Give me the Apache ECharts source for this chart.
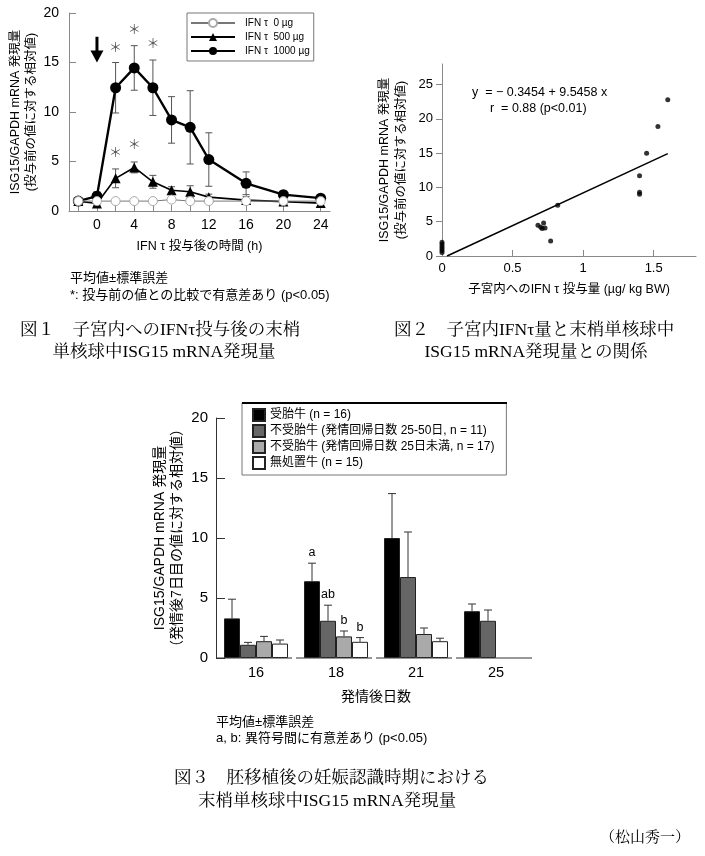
<!DOCTYPE html>
<html><head><meta charset="utf-8">
<script src="https://cdn.jsdelivr.net/npm/echarts@6/dist/echarts.min.js"></script>
<style>html,body{margin:0;padding:0;background:#fff}#c{width:705px;height:856px}</style>
</head><body><div id="c"></div>
<script>
// ---------- Figure 1 data ----------
const hours = [-2, 0, 2, 4, 6, 8, 10, 12, 16, 20, 24];
const hourLabels = [0, 4, 8, 12, 16, 20, 24];
const ifn0 = [1.0, 1.0, 1.0, 1.0, 1.0, 1.15, 1.0, 1.0, 1.0, 1.0, 1.0];
const ifn0Err = [0.1, 0.1, 0.1, 0.1, 0.1, 0.1, 0.15, 0.1, 0.1, 0.1, 0.1];
const ifn500 = [1.0, 0.75, 3.3, 4.4, 2.95, 2.1, 1.95, 1.4, 1.1, 0.95, 0.8];
const ifn500Err = [0.15, 0.15, 0.95, 0.55, 0.65, 0.35, 0.6, 0.3, 0.35, 0.15, 0.1];
const ifn1000 = [1.0, 1.5, 12.45, 14.45, 12.45, 9.2, 8.45, 5.2, 2.8, 1.65, 1.3];
const ifn1000Err = [0.2, 0.45, 2.55, 2.25, 2.8, 2.35, 3.7, 2.7, 1.15, 0.3, 0.3];
const starX = [2, 4, 6, 2, 4];
const starY = [16.6, 18.4, 17.0, 6.0, 6.8];
const arrowX = 0, arrowTop = 17.6, arrowTip = 15.0;
const fig1Names = ['IFN τ  0 µg', 'IFN τ  500 µg', 'IFN τ  1000 µg'];

// ---------- Figure 2 data ----------
const doseX = [0, 0, 0, 0, 0, 0, 0.68, 0.70, 0.72, 0.71, 0.73, 0.77, 0.82, 1.40, 1.40, 1.40, 1.45, 1.53, 1.60];
const isgY = [0.5, 0.8, 1.1, 1.4, 1.7, 2.0, 4.5, 4.2, 4.8, 4.0, 4.1, 2.2, 7.4, 11.7, 9.3, 9.0, 15.0, 18.9, 22.8];
const regX = [0.036, 1.6];
const regY = [0.0, 14.93];
const fig2XLabels = [0, 0.5, 1, 1.5];
const fig2YLabels = [0, 5, 10, 15, 20, 25];

// ---------- Figure 3 data ----------
const days = ['16', '18', '21', '25'];
const groupNames = ['受胎牛 (n = 16)', '不受胎牛 (発情回帰日数 25-50日, n = 11)', '不受胎牛 (発情回帰日数 25日未満, n = 17)', '無処置牛 (n = 15)'];
const pregnant = [3.3, 6.4, 10.0, 3.9];
const pregnantErr = [1.6, 1.5, 3.7, 0.6];
const openLong = [1.1, 3.1, 6.75, 3.1];
const openLongErr = [0.2, 1.3, 3.75, 0.9];
const openShort = [1.4, 1.8, 2.0, null];
const openShortErr = [0.4, 0.45, 0.5, null];
const untreated = [1.2, 1.35, 1.4, null];
const untreatedErr = [0.3, 0.35, 0.25, null];
const sigLetters = [['', '', '', ''], ['a', 'ab', 'b', 'b'], ['', '', '', ''], ['', '', '', '']];

const FONT = 'Liberation Sans, "Noto Sans CJK JP", sans-serif';
const SERIF = 'Liberation Serif, "Noto Serif CJK JP", "Noto Sans CJK JP", serif';

const chart = echarts.init(document.getElementById('c'), null, {renderer: 'canvas'});

function errRender(params, api) {
  const x = api.value(0), lo = api.value(1), hi = api.value(2);
  const p1 = api.coord([x, hi]), p2 = api.coord([x, lo]);
  const w = 3.5, st = {stroke: '#555', lineWidth: 1};
  return {type: 'group', children: [
    {type: 'line', shape: {x1: p1[0], y1: p1[1], x2: p2[0], y2: p2[1]}, style: st},
    {type: 'line', shape: {x1: p1[0] - w, y1: p1[1], x2: p1[0] + w, y2: p1[1]}, style: st},
    {type: 'line', shape: {x1: p2[0] - w, y1: p2[1], x2: p2[0] + w, y2: p2[1]}, style: st}
  ]};
}
function errData(means, errs) {
  return hours.map((h, i) => [h, means[i] - errs[i], means[i] + errs[i]]);
}

const barSets = [
  {vals: pregnant, errs: pregnantErr, color: '#000000'},
  {vals: openLong, errs: openLongErr, color: '#666666'},
  {vals: openShort, errs: openShortErr, color: '#aaaaaa'},
  {vals: untreated, errs: untreatedErr, color: '#ffffff'}
];
const barErrData = [];
barSets.forEach((s, si) => {
  s.vals.forEach((v, ci) => {
    if (v != null) barErrData.push([ci, si, v, v + s.errs[ci], sigLetters[ci][si]]);
  });
});

const option = {
  backgroundColor: '#fff',
  animation: false,
  textStyle: {fontFamily: FONT, color: '#000'},
  grid: [
    {left: 69, top: 13, width: 261, height: 198},
    {left: 442, top: 64, width: 254, height: 192},
    {left: 216, top: 418, width: 320, height: 240}
  ],
  xAxis: [
    {type: 'value', gridIndex: 0, min: -3, max: 25,
      axisLine: {onZero: false, lineStyle: {color: '#888'}},
      axisTick: {inside: true, length: 6, lineStyle: {color: '#888'}, customValues: hours},
      axisLabel: {customValues: hourLabels, fontSize: 14, color: '#000', margin: 7, fontFamily: FONT},
      splitLine: {show: false},
      name: 'IFN τ 投与後の時間 (h)', nameLocation: 'middle', nameGap: 29,
      nameTextStyle: {fontSize: 12.5, color: '#000', fontFamily: FONT}},
    {type: 'value', gridIndex: 1, min: 0, max: 1.8,
      axisLine: {onZero: false, lineStyle: {color: '#888'}},
      axisTick: {inside: true, length: 6, lineStyle: {color: '#888'}, customValues: [0.5, 1, 1.5]},
      axisLabel: {customValues: fig2XLabels, fontSize: 13, color: '#000', margin: 6, fontFamily: FONT},
      splitLine: {show: false},
      name: '子宮内へのIFN τ 投与量 (µg/ kg BW)', nameLocation: 'middle', nameGap: 27,
      nameTextStyle: {fontSize: 12.5, color: '#000', fontFamily: FONT}},
    {type: 'category', gridIndex: 2, data: days,
      axisLine: {show: false}, axisTick: {show: false},
      axisLabel: {fontSize: 14.5, color: '#000', margin: 8, fontFamily: FONT},
      name: '発情後日数', nameLocation: 'middle', nameGap: 32,
      nameTextStyle: {fontSize: 14, color: '#000', fontFamily: FONT}}
  ],
  yAxis: [
    {type: 'value', gridIndex: 0, min: 0, max: 20, interval: 5,
      axisLine: {show: true, onZero: false, lineStyle: {color: '#888'}},
      axisTick: {show: true, inside: true, length: 7, lineStyle: {color: '#888'}},
      axisLabel: {fontSize: 14, color: '#000', margin: 10, fontFamily: FONT},
      splitLine: {show: false},
      name: 'ISG15/GAPDH mRNA 発現量\n(投与前の値に対する相対値)', nameLocation: 'middle', nameGap: 26, nameRotate: 90,
      nameTextStyle: {fontSize: 12.5, lineHeight: 16, color: '#000', fontFamily: FONT}},
    {type: 'value', gridIndex: 1, min: 0, max: 28,
      axisLine: {show: true, onZero: false, lineStyle: {color: '#888'}},
      axisTick: {show: true, inside: false, length: 6, lineStyle: {color: '#888'}, customValues: fig2YLabels},
      axisLabel: {customValues: fig2YLabels, fontSize: 13, color: '#000', margin: 9, fontFamily: FONT},
      splitLine: {show: false},
      name: 'ISG15/GAPDH mRNA 発現量\n(投与前の値に対する相対値)', nameLocation: 'middle', nameGap: 32, nameRotate: 90,
      nameTextStyle: {fontSize: 12.5, lineHeight: 17, color: '#000', fontFamily: FONT}},
    {type: 'value', gridIndex: 2, min: 0, max: 20, interval: 5,
      axisLine: {show: true, onZero: false, lineStyle: {color: '#333'}},
      axisTick: {show: true, inside: true, length: 9, lineStyle: {color: '#333'}},
      axisLabel: {fontSize: 15, color: '#000', margin: 8, fontFamily: FONT},
      splitLine: {show: false},
      name: 'ISG15/GAPDH mRNA 発現量\n（発情後7日目の値に対する相対値）', nameLocation: 'middle', nameGap: 30, nameRotate: 90,
      nameTextStyle: {fontSize: 14, lineHeight: 17, color: '#000', fontFamily: FONT}}
  ],
  legend: [
    {data: fig1Names, orient: 'vertical', left: 187, top: 13,
      padding: [5, 4, 5, 3], itemGap: 4, itemWidth: 44, itemHeight: 10,
      borderColor: '#777', borderWidth: 1, backgroundColor: '#fff',
      textStyle: {fontSize: 10, color: '#000', fontFamily: FONT, padding: [0, 0, 0, 5]}},
    {data: groupNames, orient: 'vertical', left: 242, top: 403,
      padding: [5, 12, 5, 10], itemGap: 2, itemWidth: 12, itemHeight: 12, icon: 'rect',
      borderColor: '#777', borderWidth: 1, backgroundColor: '#fff',
      textStyle: {fontSize: 12, color: '#000', fontFamily: FONT, lineHeight: 14}}
  ],
  series: [
    // Figure 1 error bars
    {type: 'custom', xAxisIndex: 0, yAxisIndex: 0, renderItem: errRender, data: errData(ifn1000, ifn1000Err), encode: {x: 0, y: [1, 2]}, z: 1, silent: true},
    {type: 'custom', xAxisIndex: 0, yAxisIndex: 0, renderItem: errRender, data: errData(ifn500, ifn500Err), encode: {x: 0, y: [1, 2]}, z: 1, silent: true},
    {type: 'custom', xAxisIndex: 0, yAxisIndex: 0, renderItem: errRender, data: errData(ifn0, ifn0Err), encode: {x: 0, y: [1, 2]}, z: 1, silent: true},
    // Figure 1 lines
    {name: fig1Names[0], type: 'line', xAxisIndex: 0, yAxisIndex: 0, z: 4,
      data: hours.map((h, i) => [h, ifn0[i]]),
      symbol: 'circle', symbolSize: 9,
      lineStyle: {color: '#777', width: 1}, itemStyle: {color: '#fff', borderColor: '#aaa', borderWidth: 1}},
    {name: fig1Names[1], type: 'line', xAxisIndex: 0, yAxisIndex: 0, z: 3,
      data: hours.map((h, i) => [h, ifn500[i]]),
      symbol: 'triangle', symbolSize: 10,
      lineStyle: {color: '#000', width: 1.6}, itemStyle: {color: '#000'}},
    {name: fig1Names[2], type: 'line', xAxisIndex: 0, yAxisIndex: 0, z: 3,
      data: hours.map((h, i) => [h, ifn1000[i]]),
      symbol: 'circle', symbolSize: 11,
      lineStyle: {color: '#000', width: 2.4}, itemStyle: {color: '#000'}},
    // Figure 1 asterisks
    {type: 'custom', xAxisIndex: 0, yAxisIndex: 0, silent: true, z: 5,
      data: starX.map((x, i) => [x, starY[i]]),
      renderItem: (p, api) => {
        const c = api.coord([api.value(0), api.value(1)]);
        return {type: 'text', x: c[0], y: c[1], style: {text: '＊', align: 'center', verticalAlign: 'middle', textAlign: 'center', textVerticalAlign: 'middle', fontSize: 13, fontFamily: '"Noto Sans CJK JP"', fill: '#555'}};
      }},
    // Figure 1 arrow
    {type: 'custom', xAxisIndex: 0, yAxisIndex: 0, silent: true, z: 5,
      data: [[arrowX, arrowTop, arrowTip]],
      renderItem: (p, api) => {
        const t = api.coord([api.value(0), api.value(1)]);
        const b = api.coord([api.value(0), api.value(2)]);
        const hh = 12, hw = 6.5;
        return {type: 'group', children: [
          {type: 'rect', shape: {x: t[0] - 1.5, y: t[1], width: 3, height: b[1] - t[1] - hh + 1}, style: {fill: '#000'}},
          {type: 'polygon', shape: {points: [[b[0] - hw, b[1] - hh], [b[0] + hw, b[1] - hh], [b[0], b[1]]]}, style: {fill: '#000'}}
        ]};
      }},
    // Figure 2
    {type: 'scatter', xAxisIndex: 1, yAxisIndex: 1, data: doseX.map((x, i) => [x, isgY[i]]),
      symbol: 'circle', symbolSize: 5, itemStyle: {color: '#000'}},
    {type: 'line', xAxisIndex: 1, yAxisIndex: 1, data: regX.map((x, i) => [x, regY[i]]),
      symbol: 'none', lineStyle: {color: '#000', width: 1.5}},
    // Figure 3 bars
    ...barSets.map((s, si) => ({
      name: groupNames[si], type: 'bar', xAxisIndex: 2, yAxisIndex: 2,
      data: s.vals, barGap: '0%', barCategoryGap: '20%',
      itemStyle: {color: s.color, borderColor: '#222', borderWidth: 1}
    })),
    // Figure 3 baseline segments
    {type: 'custom', xAxisIndex: 2, yAxisIndex: 2, silent: true, z: 3,
      data: days.map((d, i) => [i, 0]),
      renderItem: (p, api) => {
        const c = api.coord([api.value(0), 0]);
        const band = api.size([1, 0])[0];
        return {type: 'line', shape: {x1: c[0] - band * 0.5, y1: c[1], x2: c[0] + band * 0.45, y2: c[1]}, style: {stroke: '#333', lineWidth: 1}};
      }},
    // Figure 3 error bars and letters
    {type: 'custom', xAxisIndex: 2, yAxisIndex: 2, silent: true, z: 3,
      data: barErrData, encode: {x: 0, y: [2, 3]},
      renderItem: (p, api) => {
        const ci = api.value(0), si = api.value(1);
        const band = api.size([1, 0])[0];
        const off = (si - 1.5) * band * 0.2;
        const m = api.coord([ci, api.value(2)]);
        const t = api.coord([ci, api.value(3)]);
        const x = m[0] + off;
        const letter = barErrData[p.dataIndex][4];
        const st = {stroke: '#333', lineWidth: 1};
        const ch = [
          {type: 'line', shape: {x1: x, y1: m[1], x2: x, y2: t[1]}, style: st},
          {type: 'line', shape: {x1: x - 4, y1: t[1], x2: x + 4, y2: t[1]}, style: st}
        ];
        if (letter) ch.push({type: 'text', x: x, y: t[1] - 4, style: {text: letter, align: 'center', verticalAlign: 'bottom', textAlign: 'center', textVerticalAlign: 'bottom', fontSize: 12.5, fontFamily: FONT, fill: '#000'}});
        return {type: 'group', children: ch};
      }}
  ],
  graphic: [
    {type: 'line', shape: {x1: 242, y1: 403, x2: 507, y2: 403}, style: {stroke: '#000', lineWidth: 2}, z: 100},
    {type: 'text', x: 70, y: 278, style: {text: '平均値±標準誤差', font: '13px ' + FONT, fill: '#000', verticalAlign: 'middle', textVerticalAlign: 'middle'}},
    {type: 'text', x: 70, y: 295, style: {text: '*: 投与前の値との比較で有意差あり (p<0.05)', font: '13px ' + FONT, fill: '#000', verticalAlign: 'middle', textVerticalAlign: 'middle'}},
    {type: 'text', x: 472, y: 93, style: {text: 'y  = − 0.3454 + 9.5458 x', font: '12.5px ' + FONT, fill: '#000', verticalAlign: 'middle', textVerticalAlign: 'middle'}},
    {type: 'text', x: 490, y: 109, style: {text: 'r  = 0.88 (p<0.01)', font: '12.5px ' + FONT, fill: '#000', verticalAlign: 'middle', textVerticalAlign: 'middle'}},
    {type: 'text', x: 216, y: 722, style: {text: '平均値±標準誤差', font: '13px ' + FONT, fill: '#000', verticalAlign: 'middle', textVerticalAlign: 'middle'}},
    {type: 'text', x: 216, y: 738, style: {text: 'a, b: 異符号間に有意差あり (p<0.05)', font: '13px ' + FONT, fill: '#000', verticalAlign: 'middle', textVerticalAlign: 'middle'}},
    {type: 'text', x: 20, y: 330, style: {text: '図１　子宮内へのIFNτ投与後の末梢', font: '17.5px ' + SERIF, fill: '#000', verticalAlign: 'middle', textVerticalAlign: 'middle'}},
    {type: 'text', x: 164, y: 352, style: {text: '単核球中ISG15 mRNA発現量', font: '17.5px ' + SERIF, fill: '#000', align: 'center', textAlign: 'center', verticalAlign: 'middle', textVerticalAlign: 'middle'}},
    {type: 'text', x: 394, y: 330, style: {text: '図２　子宮内IFNτ量と末梢単核球中', font: '17.5px ' + SERIF, fill: '#000', verticalAlign: 'middle', textVerticalAlign: 'middle'}},
    {type: 'text', x: 536, y: 352, style: {text: 'ISG15 mRNA発現量との関係', font: '17.5px ' + SERIF, fill: '#000', align: 'center', textAlign: 'center', verticalAlign: 'middle', textVerticalAlign: 'middle'}},
    {type: 'text', x: 174, y: 778, style: {text: '図３　胚移植後の妊娠認識時期における', font: '17.5px ' + SERIF, fill: '#000', verticalAlign: 'middle', textVerticalAlign: 'middle'}},
    {type: 'text', x: 198, y: 801, style: {text: '末梢単核球中ISG15 mRNA発現量', font: '17.5px ' + SERIF, fill: '#000', verticalAlign: 'middle', textVerticalAlign: 'middle'}},
    {type: 'text', x: 690, y: 838, style: {text: '（松山秀一）', font: '15px ' + SERIF, fill: '#000', align: 'right', textAlign: 'right', verticalAlign: 'middle', textVerticalAlign: 'middle'}}
  ]
};
chart.setOption(option);
</script>
</body></html>
